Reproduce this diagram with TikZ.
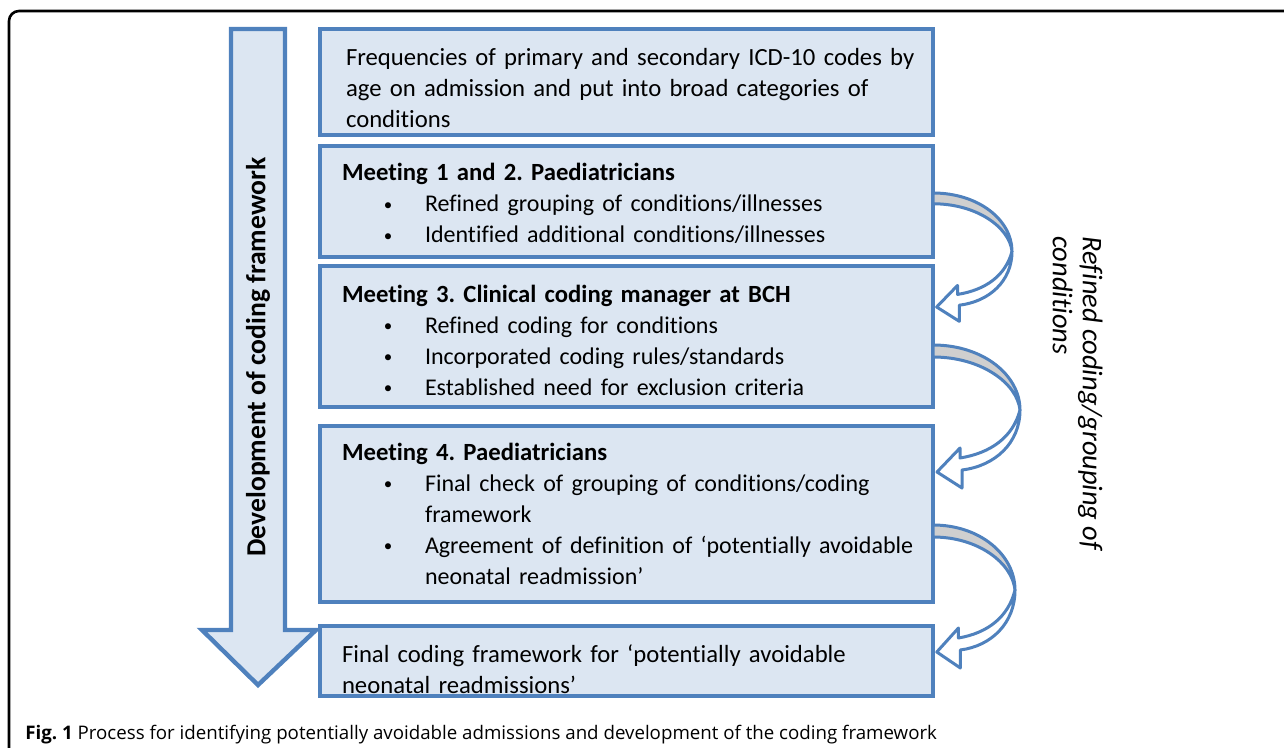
\documentclass[tikz,border=0pt]{standalone}
\usepackage{fontspec}
\setmainfont{Carlito}[Ligatures=NoCommon]
\newfontfamily\capfont{Open Sans}
\usetikzlibrary{positioning}
\definecolor{boxblue}{HTML}{4F81BD}
\definecolor{boxfill}{HTML}{DCE6F2}
\definecolor{bandgray}{HTML}{CFCFCF}
\newcommand{\bul}{\fontsize{12}{15.5}\selectfont\hspace*{23pt}\makebox[0pt]{\raisebox{0.8pt}{\fontsize{8.5}{8.5}\selectfont\textbullet}}\hspace*{18.5pt}}
\newcommand{\cont}{\hspace*{41.5pt}}
\newcommand{\topgap}[1]{\rule{0pt}{\dimexpr 9.2pt+#1\relax}}
\frenchspacing
\begin{document}
\begin{tikzpicture}[x=0.5pt, y=-0.5pt,
	box/.style={draw=boxblue, fill=boxfill, line width=2.2pt, outer sep=0pt,
		minimum width=306.5pt, text width=290pt, inner xsep=8.25pt, inner ysep=0pt, align=left,
		font=\fontsize{12.35}{15.5}\selectfont, execute at begin node={\leftskip=2.75pt\relax}},
	bandtop/.style={draw=boxblue, fill=bandgray, line width=1.5pt, line join=round},
	bandlow/.style={draw=boxblue, fill=white, line width=1.5pt, line join=round}]
			\useasboundingbox (0,0) rectangle (1284,748);
			%frame
			\draw[line width=1.3pt, rounded corners=5pt] (9,748) -- (9,11) -- (1284,11);
			
			%big arrow on the left
			\draw[draw=boxblue, fill=boxfill, line width=2.2pt]
				(231,29) -- (285,29) -- (285,630) -- (316,630) -- (258,685) -- (202,630) -- (231,630) -- cycle;
			\node[rotate=90, font=\fontsize{13.8}{16}\selectfont\bfseries] (dev) at (258,357) {Development of coding framework};
			
			%steps
			\node[box, anchor=north west, minimum height=53pt] (b1) at (320,29)
				{\topgap{5pt}\hspace*{2pt}Frequencies of primary and secondary ICD-10 codes by\\
				\hspace*{2pt}age on admission and put into broad categories of\\
				\hspace*{2pt}conditions};
			\node[box, minimum height=55.5pt, below=5.5pt of b1] (b2)
				{\topgap{1.5pt}\textbf{Meeting 1 and 2. Paediatricians}\\
				\bul Refined grouping of conditions/illnesses\\
				\bul Identified additional conditions/illnesses};
			\node[box, minimum height=70.5pt, below=4.5pt of b2] (b3)
				{\topgap{3pt}\textbf{Meeting 3. Clinical coding manager at BCH}\\
				\bul Refined coding for conditions\\
				\bul Incorporated coding rules/standards\\
				\bul Established need for exclusion criteria};
			\node[box, minimum height=88pt, below=9.5pt of b3] (b4)
				{\textbf{Meeting 4. Paediatricians}\\
				\bul Final check of grouping of conditions/coding\\
				\cont framework\\
				\bul Agreement of definition of ‘potentially avoidable\\
				\cont neonatal readmission’};
			\node[box, minimum height=35pt, below=12pt of b4] (b5)
				{\topgap{8pt}Final coding framework for ‘potentially avoidable\\neonatal readmissions’};
			
			%curved arrows between the meetings
			\foreach \src/\dy/\h/\w in {b2/47/114/79, b3/79/127/87, b4/99/127/82}{
				\begin{scope}[shift={(\src.north east)}, shift={(0,\dy)}, xscale=\w/87, yscale=\h/127]
					\filldraw[bandtop] (0,0) .. controls (50,0) and (87,30) .. (87,65)
						.. controls (84,38) and (48,12) .. (0,12) -- cycle;
					\filldraw[bandlow] (87,65) .. controls (87,98) and (62,121) .. (29,125)
						-- (29,143) -- (4,127) -- (27,103) -- (27,113)
						.. controls (58,108) and (80,92) .. (87,65) -- cycle;
				\end{scope}
			}
			\node[rotate=-90, anchor=north west, align=left, inner sep=0pt,
				font=\fontsize{14.2}{15}\selectfont\itshape] (refined) at (1103,236)
				{Refined coding/grouping of\\conditions};
			
			%caption
			\node[anchor=base west, inner sep=0pt, font=\capfont\fontsize{9.35}{11}\selectfont] (cap) at (25,739)
				{\textbf{Fig. 1} Process for identifying potentially avoidable admissions and development of the coding framework};
\end{tikzpicture}
\end{document}
